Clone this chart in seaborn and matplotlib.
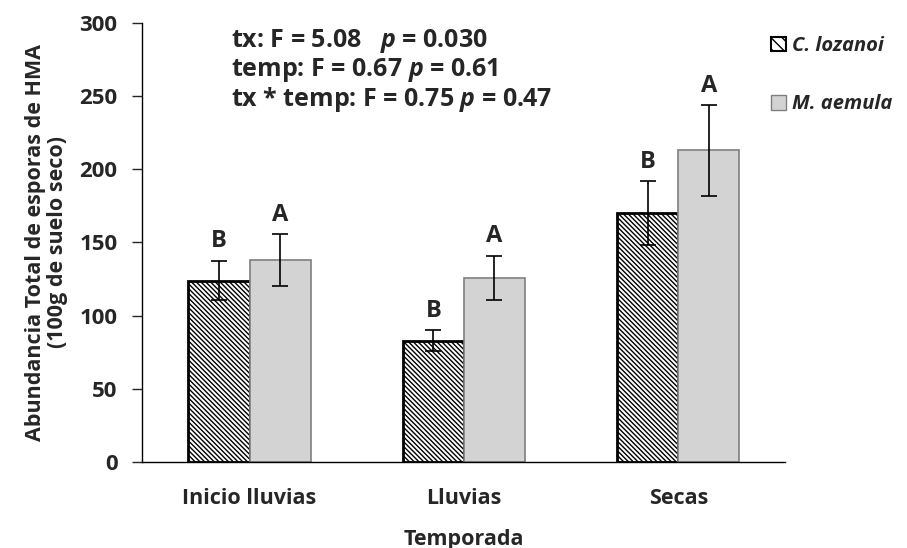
import matplotlib
matplotlib.use("Agg")
import matplotlib.pyplot as plt
import seaborn as sns
import pandas as pd
import numpy as np
from matplotlib.patches import Patch

seasons = ["Inicio lluvias", "Lluvias", "Secas"]
species = ["C. lozanoi", "M. aemula"]
lozanoi_mean = [124, 83, 170]
aemula_mean = [138, 126, 213]
lozanoi_err = [13.5, 7, 22]
aemula_err = [17.5, 15, 31]
lozanoi_letters = ["B", "B", "B"]
aemula_letters = ["A", "A", "A"]

sns.set_theme(style="white")
plt.rcParams['font.family'] = ['Open Sans', 'DejaVu Sans']
plt.rcParams['hatch.linewidth'] = 1.0
plt.rcParams['mathtext.fontset'] = 'custom'
plt.rcParams['mathtext.bfit'] = 'Open Sans:bold:italic'
plt.rcParams['mathtext.it'] = 'Open Sans:bold:italic'

HATCH = "\\" * 7

df = pd.DataFrame({
    "Temporada": seasons * 2,
    "Especie": [species[0]] * 3 + [species[1]] * 3,
    "valor": lozanoi_mean + aemula_mean,
})

fig = plt.figure(figsize=(9.07, 5.48), dpi=100)
ax = fig.add_axes([0.157, 0.157, 0.709, 0.801])

sns.barplot(data=df, x="Temporada", y="valor", hue="Especie", order=seasons,
            hue_order=species, palette=["white", "#d3d3d3"], width=0.57,
            errorbar=None, ax=ax, legend=False, saturation=1)

n = len(seasons)
patches = [p for p in ax.patches]
for p in patches[:n]:
    p.set_hatch(HATCH)
    p.set_edgecolor("black")
    p.set_linewidth(2)
for p in patches[n:2 * n]:
    p.set_edgecolor("#7f7f7f")
    p.set_linewidth(1.2)

means = [lozanoi_mean, aemula_mean]
errs = [lozanoi_err, aemula_err]
letters = [lozanoi_letters, aemula_letters]
for s in range(2):
    for i in range(n):
        p = patches[s * n + i]
        xc = p.get_x() + p.get_width() / 2
        ax.errorbar(xc, means[s][i], yerr=errs[s][i], fmt="none", ecolor="black",
                    elinewidth=1.2, capsize=6, capthick=1.2, zorder=5)
        ax.text(xc, means[s][i] + errs[s][i] + 5, letters[s][i], ha="center",
                va="bottom", fontsize=17, fontweight="bold")

ax.set_ylim(0, 300)
ax.set_xlim(-0.5, 2.5)
ax.set_yticks(np.arange(0, 301, 50))
ax.tick_params(axis="y", direction="out", length=7, width=1, left=True,
               labelsize=16, pad=11)
ax.tick_params(axis="x", length=0, labelsize=15.5, pad=19)
for lab in ax.get_yticklabels() + ax.get_xticklabels():
    lab.set_fontweight("bold")
for side in ["top", "right"]:
    ax.spines[side].set_visible(False)
for side in ["left", "bottom"]:
    ax.spines[side].set_color("black")
    ax.spines[side].set_linewidth(1)

ax.set_xlabel("Temporada", fontsize=15.5, fontweight="bold", labelpad=14)
ax.set_ylabel("Abundancia Total de esporas de HMA\n(100g de suelo seco)",
              fontsize=15.5, fontweight="bold", labelpad=8, linespacing=1.05)

stats = [
    r"tx: F = 5.08   $\it{p}$ = 0.030",
    r"temp: F = 0.67 $\it{p}$ = 0.61",
    r"tx * temp: F = 0.75 $\it{p}$ = 0.47",
]
for k, line in enumerate(stats):
    fig.text(231 / 907, 1 - (41 + 29 * k) / 548, line, fontsize=18,
             fontweight="bold", va="center", ha="left")

handles = [Patch(facecolor="white", edgecolor="black", hatch="\\\\\\", linewidth=1.5),
           Patch(facecolor="#d3d3d3", edgecolor="#7f7f7f", linewidth=1)]
leg = fig.legend(handles, species, loc="upper left", bbox_to_anchor=(753 / 907, 1 - 18 / 548),
                 frameon=False, handlelength=0.75, handleheight=0.75, handletextpad=0.3,
                 labelspacing=1.9, prop={"size": 14.5, "weight": "bold", "style": "italic"})

fig.savefig("out.png", dpi=100)
